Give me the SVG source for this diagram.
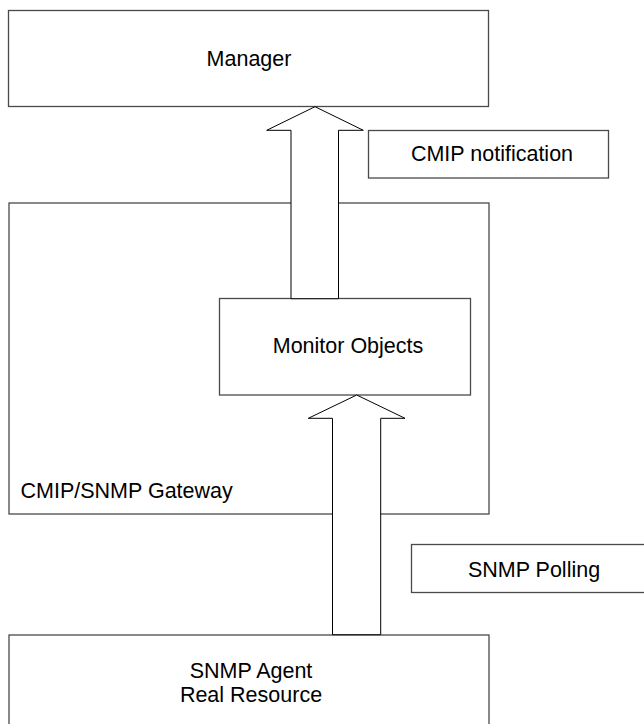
<svg xmlns="http://www.w3.org/2000/svg" width="644" height="724" viewBox="0 0 644 724">
  <style>
    .box { fill: #ffffff; stroke: #4a4a4a; stroke-width: 1.3; }
    .arrow { fill: #ffffff; stroke: #000000; stroke-width: 1; stroke-linejoin: miter; }
    .label { font-family: "Liberation Sans", Arial, sans-serif; font-size: 21.5px; fill: #000000; }
    .mid { text-anchor: middle; }
  </style>
  <rect width="644" height="724" fill="#ffffff"/>

  <!-- gateway container -->
  <g id="gateway">
    <rect class="box" x="9" y="203" width="480" height="311"/>
    <text class="label" x="20.5" y="498">CMIP/SNMP Gateway</text>
  </g>

  <g id="monitor-objects">
    <rect class="box" x="219.5" y="298.5" width="251" height="96.5"/>
    <text class="label mid" x="348" y="352.5">Monitor Objects</text>
  </g>

  <g id="manager">
    <rect class="box" x="8.5" y="10.5" width="480" height="96"/>
    <text class="label mid" x="249" y="65.5">Manager</text>
  </g>

  <g id="snmp-agent">
    <rect class="box" x="9" y="635" width="480" height="100"/>
    <text class="label mid" x="251" y="677.5">SNMP Agent</text>
    <text class="label mid" x="251" y="701.5">Real Resource</text>
  </g>

  <g id="cmip-notification">
    <rect class="box" x="368.5" y="130.5" width="240" height="47.5"/>
    <text class="label mid" x="492" y="161">CMIP notification</text>
  </g>

  <g id="snmp-polling">
    <rect class="box" x="411.5" y="544.5" width="250" height="48"/>
    <text class="label mid" x="534" y="577">SNMP Polling</text>
  </g>

  <!-- block arrows -->
  <g id="connectors">
    <path class="arrow" d="M291,298.7 L291,130.3 L266.7,130.3 L315,106.7 L363.3,130.3 L338.5,130.3 L338.5,298.7 Z"/>
    <path class="arrow" d="M332.5,634.7 L332.5,418.3 L308.3,418.3 L356.7,395 L405,418.3 L380.7,418.3 L380.7,634.7 Z"/>
  </g>
</svg>
